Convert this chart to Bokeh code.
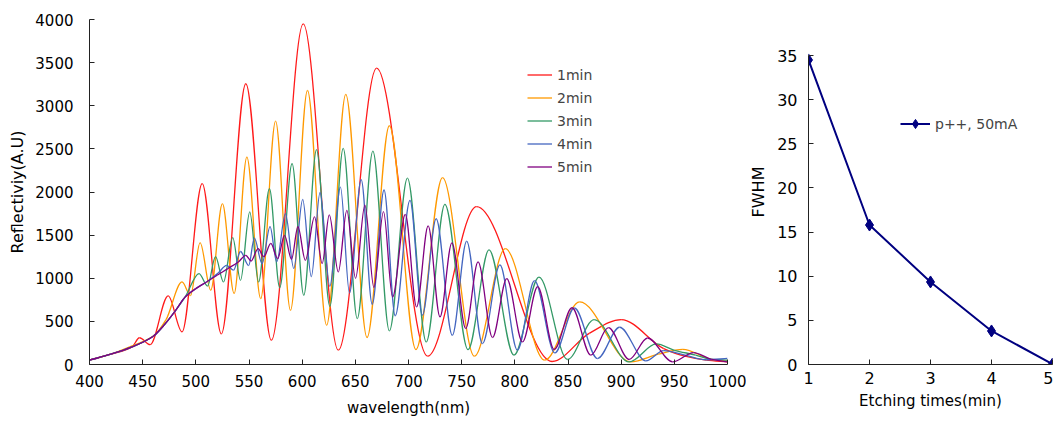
import numpy as np
from bokeh.plotting import figure
from bokeh.layouts import row
from bokeh.models import (ColumnDataSource, FixedTicker, Legend, LegendItem,
                          LinearAxis, Range1d)
from bokeh.embed import file_html
from bokeh.resources import INLINE

# ---------------- data ----------------
# left panel: wavelength (nm) of extrema / shape points and reflectivity (A.U)
wl_1min = [400, 420, 440, 447, 457, 474, 487, 506, 524, 547, 571, 601, 634, 670,
           718, 764, 835, 870, 900, 940, 960, 980, 1000]
r_1min = [50, 119, 204, 310, 230, 795, 378, 2097, 355, 3255, 281, 3950, 166, 3436,
          96, 1830, 35, 361, 521, 185, 96, 50, 30]

wl_2min = [400, 420, 440, 450, 460, 472, 487, 495, 504, 514, 525, 536, 548, 561,
           575, 589, 605, 623, 641, 661, 682, 707, 732, 762, 791, 828, 861, 909,
           935, 958, 985, 1000]
r_2min = [50, 120, 215, 265, 330, 520, 957, 800, 1413, 861, 1865, 822, 2405, 764,
          2822, 629, 3177, 455, 3131, 313, 2768, 173, 2166, 96, 1343, 50, 725, 30,
          120, 175, 60, 40]

wl_3min = [400, 420, 440, 460, 470, 480, 490, 503, 511, 518.5, 526, 534.7, 542,
           550.7, 559, 569.2, 578.9, 590.5, 601.5, 613.5, 626, 638.6, 651.8, 666.5,
           682, 699, 716.7, 734.2, 756, 775.7, 799.2, 822.7, 849.5, 874.6, 907.5,
           933, 950, 970, 985, 1000]
r_3min = [50, 119, 204, 328, 455, 610, 783, 1054, 910, 1250, 957, 1471, 976, 1768,
          957, 2039, 892, 2328, 803, 2490, 675, 2505, 533, 2474, 390, 2160, 262,
          1857, 173, 1328, 108, 1012, 58, 521, 30, 238, 165, 110, 60, 50]

wl_4min = [400, 420, 440, 460, 470, 480, 490, 500, 510, 521, 529, 535.5, 542,
           549.7, 555, 562.3, 569.8, 576, 584.3, 592.1, 600.5, 608.6, 616.8, 626,
           636, 644.5, 655.5, 665.9, 677, 687.5, 701.4, 713, 726, 741.2, 754.7,
           769.5, 786, 802.4, 818.5, 837.6, 856, 877.7, 898.5, 923.2, 940, 960,
           980, 1000]
r_4min = [50, 119, 204, 328, 455, 610, 783, 880, 957, 1060, 1150, 1095, 1310, 1147,
          1465, 1170, 1598, 1190, 1749, 1112, 1913, 1019, 1994, 907, 2057, 830,
          2143, 697, 2023, 565, 1903, 571, 1690, 339, 1430, 243, 1154, 166, 972,
          134, 655, 69, 432, 42, 160, 110, 55, 70]

wl_5min = [400, 420, 440, 460, 470, 480, 490, 500, 510, 520, 530, 540, 547, 552,
           558.5, 564, 570.5, 577, 583.4, 590, 596, 603, 611.6, 618.8, 625.5, 634,
           642, 650.2, 659, 667.4, 676.5, 685, 697, 707.6, 718.5, 729.6, 740.8,
           753.8, 765.4, 779, 792.4, 807.2, 821.5, 837, 853.8, 871.4, 888, 907.5,
           924.8, 948.4, 968, 985, 1000]
r_5min = [50, 119, 204, 328, 455, 610, 783, 880, 957, 1034, 1112, 1189, 1266, 1200,
          1343, 1250, 1405, 1228, 1498, 1220, 1597, 1208, 1712, 1170, 1735, 1073,
          1787, 1000, 1848, 895, 1772, 783, 1740, 667, 1608, 552, 1411, 417, 1189,
          313, 996, 262, 903, 174, 658, 108, 428, 58, 307, 30, 137, 60, 30]

series_names = ["1min", "2min", "3min", "4min", "5min"]
series_colors = ["#ff1a1a", "#ff9900", "#339966", "#4466c0", "#800080"]

wl_ticks = [400, 450, 500, 550, 600, 650, 700, 750, 800, 850, 900, 950, 1000]
refl_ticks = [0, 500, 1000, 1500, 2000, 2500, 3000, 3500, 4000]

# right panel
etch_times = [1, 2, 3, 4, 5]
fwhm = [34.5, 15.8, 9.35, 3.8, 0.05]
etch_ticks = [1, 2, 3, 4, 5]
fwhm_ticks = [0, 5, 10, 15, 20, 25, 30, 35]

FONT = "DejaVu Sans"
AXIS_COLOR = "#222222"


def smooth_source(xs, ys):
    """Bezier segments through the points, monotone (flat at extrema) tangents."""
    x = np.asarray(xs, float)
    y = np.asarray(ys, float)
    h = np.diff(x)
    d = np.diff(y) / h
    m = np.zeros_like(x)
    m[0] = d[0]
    m[-1] = d[-1]
    for i in range(1, len(x) - 1):
        if d[i - 1] * d[i] > 0:
            w1 = 2 * h[i] + h[i - 1]
            w2 = h[i] + 2 * h[i - 1]
            m[i] = (w1 + w2) / (w1 / d[i - 1] + w2 / d[i])
    return ColumnDataSource(dict(
        x0=x[:-1], y0=y[:-1], x1=x[1:], y1=y[1:],
        cx0=x[:-1] + h / 3, cy0=y[:-1] + m[:-1] * h / 3,
        cx1=x[1:] - h / 3, cy1=y[1:] - m[1:] * h / 3))


def style_axes(p, size):
    for ax in (p.xaxis[0], p.yaxis[0]):
        ax.axis_line_color = AXIS_COLOR
        ax.axis_line_width = 1
        ax.major_tick_line_color = AXIS_COLOR
        ax.major_tick_in = 5
        ax.major_tick_out = 0
        ax.minor_tick_line_color = None
        ax.major_label_text_font = FONT
        ax.major_label_text_font_size = size
        ax.major_label_text_color = "black"
        ax.axis_label_text_font = FONT
        ax.axis_label_text_font_style = "normal"
        ax.axis_label_text_color = "black"
    p.xgrid.grid_line_color = None
    p.ygrid.grid_line_color = None
    p.outline_line_color = None


# both figures share frame top (19px) and bottom (364px) because a row aligns them
H = 420
TOP = 19
BOTTOM = 56

# ---------------- left figure ----------------
p1 = figure(width=746, height=H, output_backend="svg", toolbar_location=None,
            x_range=Range1d(400, 1000), y_range=Range1d(0, 4000),
            min_border_left=89, min_border_right=19, min_border_top=TOP,
            min_border_bottom=BOTTOM)
style_axes(p1, "15px")
p1.xaxis.ticker = FixedTicker(ticks=wl_ticks)
p1.yaxis.ticker = FixedTicker(ticks=refl_ticks)
p1.xaxis.axis_label = "wavelength(nm)"
p1.xaxis.axis_label_text_font_size = "15px"
p1.xaxis.major_label_standoff = 10
p1.xaxis.axis_label_standoff = 9
p1.yaxis.major_label_standoff = 16

# y title sits above the frame centre in the original: a label-only axis
ytitle = LinearAxis(axis_label="Reflectiviy(A.U)", bounds=(700, 3990),
                    ticker=FixedTicker(ticks=[]), axis_line_color=None,
                    major_tick_line_color=None, minor_tick_line_color=None,
                    axis_label_standoff=6, axis_label_text_font=FONT,
                    axis_label_text_font_size="16px",
                    axis_label_text_font_style="normal",
                    axis_label_text_color="black")
p1.add_layout(ytitle, "left")

all_wl = [wl_1min, wl_2min, wl_3min, wl_4min, wl_5min]
all_r = [r_1min, r_2min, r_3min, r_4min, r_5min]
items = []
for name, col, xs, ys in zip(series_names, series_colors, all_wl, all_r):
    src = smooth_source(xs, ys)
    rend = p1.bezier(x0="x0", y0="y0", x1="x1", y1="y1", cx0="cx0", cy0="cy0",
                     cx1="cx1", cy1="cy1", source=src, line_color=col,
                     line_width=1.3)
    items.append(LegendItem(label=name, renderers=[rend]))

leg1 = Legend(items=items, location=(438, 186), padding=0, margin=0, spacing=0,
              glyph_width=25, glyph_height=23, label_height=23, label_standoff=5,
              label_text_font=FONT, label_text_font_size="14px",
              background_fill_alpha=0, border_line_color=None)
p1.add_layout(leg1)

# ---------------- right figure ----------------
# frame spans 19..364 px; 35 sits at 55 px, 0 on the bottom axis
p2 = figure(width=1053 - 746, height=H, output_backend="svg",
            toolbar_location=None,
            x_range=Range1d(1, 5), y_range=Range1d(0, 39.08),
            min_border_left=59, min_border_right=1, min_border_top=TOP,
            min_border_bottom=BOTTOM)
style_axes(p2, "16px")
p2.xaxis.ticker = FixedTicker(ticks=etch_ticks)
p2.yaxis.ticker = FixedTicker(ticks=fwhm_ticks)
p2.yaxis.bounds = (0, 35)
p2.xaxis.axis_label = "Etching times(min)"
p2.xaxis.axis_label_text_font_size = "15px"
p2.yaxis.axis_label = "FWHM"
p2.yaxis.axis_label_text_font_size = "16px"
p2.xaxis.major_label_standoff = 7
p2.xaxis.axis_label_standoff = 5
p2.yaxis.major_label_standoff = 11
p2.yaxis.axis_label_standoff = 6

src2 = ColumnDataSource(dict(t=etch_times, f=fwhm))
ln = p2.line("t", "f", source=src2, line_color="#000080", line_width=2)
mk = p2.scatter("t", "f", source=src2, marker="diamond", size=12,
                fill_color="#000080", line_color="#000080")
leg2 = Legend(items=[LegendItem(label="p++, 50mA", renderers=[ln, mk])],
              location=(92, 229), padding=0, margin=0, spacing=0,
              glyph_width=30, glyph_height=23, label_height=23, label_standoff=5,
              label_text_font=FONT, label_text_font_size="14px",
              background_fill_alpha=0, border_line_color=None)
p2.add_layout(leg2)

layout = row(p1, p2)
open("out.html", "w").write(file_html(layout, INLINE))
